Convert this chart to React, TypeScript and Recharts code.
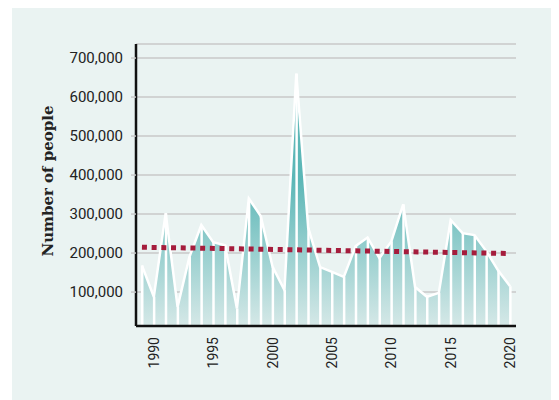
import React from 'react';
import { ComposedChart, Area, Bar, Line, XAxis, YAxis, CartesianGrid } from 'recharts';

const years = [
  1989, 1990, 1991, 1992, 1993, 1994, 1995, 1996, 1997, 1998, 1999,
  2000, 2001, 2002, 2003, 2004, 2005, 2006, 2007, 2008, 2009,
  2010, 2011, 2012, 2013, 2014, 2015, 2016, 2017, 2018, 2019, 2020,
];

const people = [
  168000, 88000, 302000, 62000, 190000, 272000, 228000, 220000, 58000, 340000, 295000,
  165000, 105000, 660000, 265000, 164000, 152000, 139000, 218000, 240000, 187000,
  230000, 325000, 113000, 88000, 98000, 285000, 251000, 246000, 205000, 155000, 115000,
];

const trendStart = 215000;
const trendEnd = 199000;

const yTicks = [100000, 200000, 300000, 400000, 500000, 600000, 700000];
const xLabelYears = [1990, 1995, 2000, 2005, 2010, 2015, 2020];

const data = years.map((year, i) => ({
  year,
  people: people[i],
  trend: i === 0 ? trendStart : i === years.length - 1 ? trendEnd : null,
}));

const tickFont = '"Roboto", sans-serif';

const XTick = (props: any) => {
  const { x, y, payload } = props;
  if (!xLabelYears.includes(Number(payload.value))) return null;
  return (
    <text
      x={x}
      y={y}
      transform={`rotate(-90 ${x} ${y})`}
      textAnchor="end"
      dominantBaseline="central"
      fontFamily={tickFont}
      fontSize={14}
      fill="#222"
    >
      {payload.value}
    </text>
  );
};

export default function App() {
  return (
    <div style={{ position: 'relative', width: 559, height: 400 }}>
      <div
        style={{
          position: 'absolute',
          left: 4,
          top: -4,
          width: 542,
          height: 396,
          background: '#eaf3f2',
        }}
      />
      <div style={{ position: 'absolute', left: -8, top: -8 }}>
        <ComposedChart
          width={559}
          height={400}
          data={data}
          margin={{ top: 44, right: 43, bottom: 24, left: 40 }}
          barCategoryGap={0}
        >
          <defs>
            <linearGradient id="tealFill" x1="0" y1="180" x2="0" y2="326" gradientUnits="userSpaceOnUse">
              <stop offset="0" stopColor="#5cb7b7" />
              <stop offset="1" stopColor="#d5e8e7" />
            </linearGradient>
          </defs>
          <CartesianGrid vertical={false} stroke="#c8c8c8" strokeWidth={1.5} />
          <XAxis
            dataKey="year"
            type="category"
            interval={0}
            tickLine={false}
            tickSize={6}
            tickMargin={5}
            height={50}
            axisLine={{ stroke: '#111', strokeWidth: 2.5 }}
            tick={<XTick />}
          />
          <YAxis
            type="number"
            domain={[13000, 736000]}
            allowDataOverflow
            ticks={yTicks}
            width={96}
            tickSize={5}
            tickMargin={8}
            tickLine={{ stroke: '#c8c8c8', strokeWidth: 1.5 }}
            axisLine={{ stroke: '#111', strokeWidth: 2.5 }}
            tickFormatter={(v: number) => v.toLocaleString('en-US')}
            tick={{ fontFamily: tickFont, fontSize: 15, fill: '#222' }}
          />
          <Area
            type="linear"
            dataKey="people"
            stroke="#ffffff"
            strokeWidth={2.5}
            fill="url(#tealFill)"
            fillOpacity={1}
            isAnimationActive={false}
            dot={false}
            activeDot={false}
          />
          <Bar dataKey="people" fill="#ffffff" barSize={2.5} isAnimationActive={false} />
          <Line
            type="linear"
            dataKey="trend"
            connectNulls
            stroke="#a51c3c"
            strokeWidth={5}
            strokeDasharray="5 4.7"
            dot={false}
            activeDot={false}
            isAnimationActive={false}
          />
        </ComposedChart>
      </div>
      <div
        style={{
          position: 'absolute',
          left: 40,
          top: 173,
          transform: 'translate(-50%, -50%) rotate(-90deg)',
          whiteSpace: 'nowrap',
          fontFamily: '"DejaVu Serif", serif',
          fontWeight: 'bold',
          fontSize: 15,
          color: '#222',
        }}
      >
        Number of people
      </div>
    </div>
  );
}
